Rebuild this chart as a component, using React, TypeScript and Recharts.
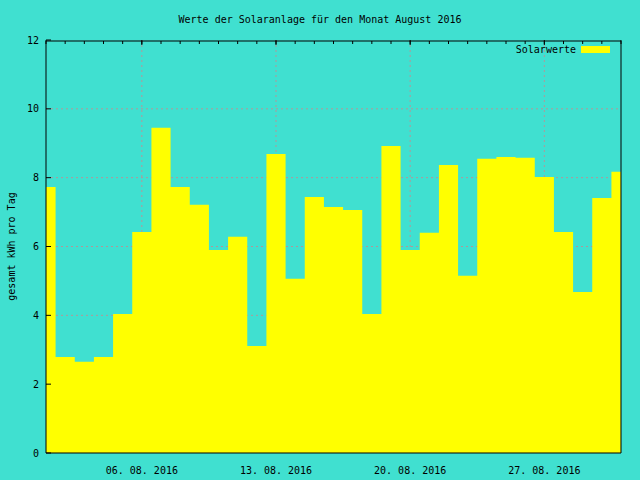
import React from "react";
import {
  ComposedChart,
  Area,
  XAxis,
  YAxis,
  CartesianGrid,
  Legend,
} from "recharts";

const days = [
  1, 2, 3, 4, 5, 6, 7, 8, 9, 10, 11, 12, 13, 14, 15, 16,
  17, 18, 19, 20, 21, 22, 23, 24, 25, 26, 27, 28, 29, 30, 31,
];
const solarwerte = [
  7.73, 2.79, 2.65, 2.79, 4.04, 6.42, 9.45, 7.73, 7.21, 5.9, 6.28, 3.11, 8.69, 5.06, 7.44, 7.15,
  7.06, 4.04, 8.92, 5.9, 6.4, 8.37, 5.15, 8.55, 8.6, 8.58, 8.02, 6.42, 4.68, 7.41, 8.17,
];
const majorDays = [6, 13, 20, 27];
const majorLabels = ["06. 08. 2016", "13. 08. 2016", "20. 08. 2016", "27. 08. 2016"];
const yTicks = [0, 2, 4, 6, 8, 10, 12];

const data = days.map((d, i) => ({ day: d, value: solarwerte[i] }));

const FONT = "'DejaVu Sans Mono', 'Liberation Mono', monospace";
const tickStyle = { fontSize: 10, fontFamily: FONT, fill: "#000" };

// ticks without labels (only the tick line is wanted)
const noLabel = () => <g />;

function LegendBox() {
  return (
    <div style={{ position: "relative", width: 640, height: 0 }}>
      <span
        style={{
          position: "absolute",
          right: 640 - 576,
          top: 44,
          fontSize: 10,
          fontFamily: FONT,
          lineHeight: "12px",
          color: "#000",
          whiteSpace: "nowrap",
        }}
      >
        Solarwerte
      </span>
      <div
        style={{
          position: "absolute",
          left: 581,
          top: 46,
          width: 29,
          height: 7,
          background: "#ffff00",
        }}
      />
    </div>
  );
}

export default function App() {
  return (
    <div
      style={{
        position: "absolute",
        left: 0,
        top: 0,
        width: 640,
        height: 480,
        background: "#40E0D0",
      }}
    >
      <div
        style={{
          position: "absolute",
          top: 14,
          width: 640,
          textAlign: "center",
          fontSize: 10,
          fontFamily: FONT,
          lineHeight: "12px",
          whiteSpace: "pre",
        }}
      >
        Werte der Solaranlage für den Monat August 2016
      </div>
      <ComposedChart
        width={640}
        height={480}
        data={data}
        margin={{ top: 40, right: 19, bottom: 0, left: 0 }}
      >
        <CartesianGrid
          xAxisId="main"
          yAxisId="left"
          stroke="#b09898"
          strokeDasharray="2 3"
          horizontalValues={[2, 4, 6, 8, 10]}
          verticalValues={majorDays}
        />
        <XAxis
          xAxisId="main"
          dataKey="day"
          type="number"
          domain={[1, 31]}
          allowDataOverflow
          ticks={majorDays}
          tickFormatter={(v) => majorLabels[majorDays.indexOf(v)] ?? ""}
          tickLine={false}
          tickMargin={8}
          height={27}
          axisLine={{ stroke: "#000" }}
          tick={tickStyle}
          interval={0}
        />
        <XAxis
          xAxisId="topMinor"
          orientation="top"
          dataKey="day"
          type="number"
          domain={[1, 31]}
          ticks={days}
          interval={0}
          mirror
          height={1}
          tickSize={3}
          tick={noLabel}
          axisLine={{ stroke: "#000" }}
          tickLine={{ stroke: "#000" }}
        />
        <XAxis
          xAxisId="topMajor"
          orientation="top"
          dataKey="day"
          type="number"
          domain={[1, 31]}
          ticks={majorDays}
          interval={0}
          mirror
          height={1}
          tickSize={5}
          tick={noLabel}
          axisLine={false}
          tickLine={{ stroke: "#000" }}
        />
        <YAxis
          yAxisId="left"
          type="number"
          domain={[0, 12]}
          ticks={yTicks}
          interval={0}
          width={46}
          tickSize={-5}
          tickMargin={12}
          axisLine={{ stroke: "#000" }}
          tickLine={{ stroke: "#000" }}
          tick={tickStyle}
          label={{
            value: "gesamt kWh pro Tag",
            angle: -90,
            position: "insideLeft",
            offset: 11,
            style: { fontSize: 10, fontFamily: FONT, fill: "#000", textAnchor: "middle" },
          }}
        />
        <YAxis
          yAxisId="right"
          orientation="right"
          type="number"
          domain={[0, 12]}
          ticks={yTicks}
          interval={0}
          mirror
          width={1}
          tickSize={5}
          tick={noLabel}
          axisLine={{ stroke: "#000" }}
          tickLine={{ stroke: "#000" }}
        />
        <Legend
          layout="vertical"
          align="center"
          verticalAlign="middle"
          wrapperStyle={{ left: 0, top: 0, width: 640, height: 0 }}
          content={() => <LegendBox />}
        />
        <Area
          xAxisId="main"
          yAxisId="left"
          dataKey="value"
          name="Solarwerte"
          type="step"
          stroke="none"
          fill="#ffff00"
          fillOpacity={1}
          dot={false}
          activeDot={false}
          isAnimationActive={false}
        />
      </ComposedChart>
    </div>
  );
}
